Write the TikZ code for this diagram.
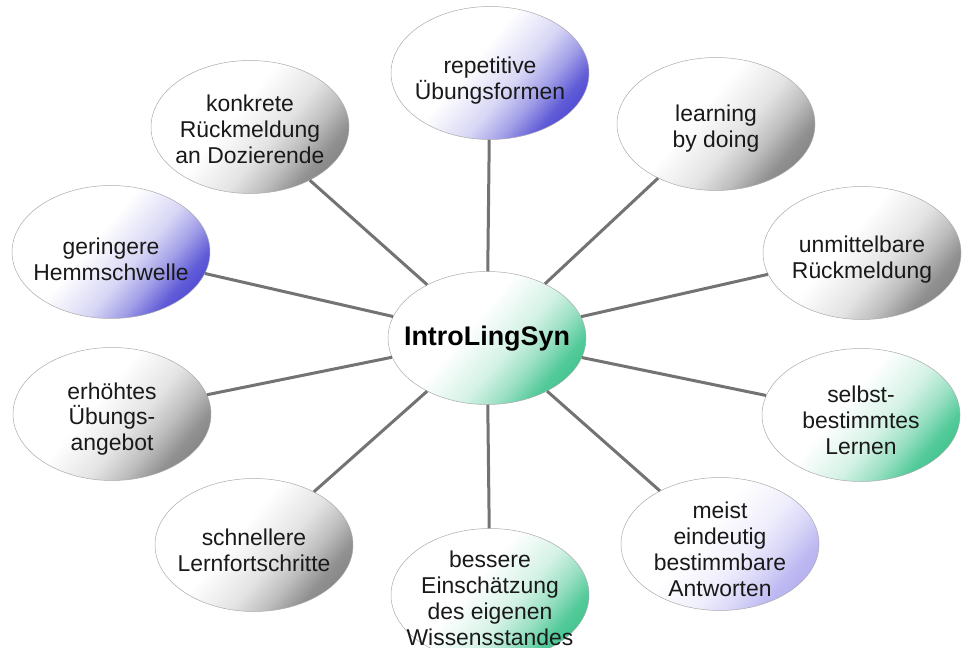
\documentclass[tikz,border=0pt]{standalone}
\usepackage{fontspec}
\setmainfont{Liberation Sans}
\usetikzlibrary{shapes.geometric}
\definecolor{cblue}{RGB}{75,70,210}
\definecolor{cgreen}{RGB}{60,195,140}
\definecolor{cgray}{RGB}{130,130,130}
\definecolor{clav}{RGB}{180,175,240}
\definecolor{conn}{RGB}{115,115,115}
\newcommand{\mkshade}[2]{\pgfdeclarehorizontalshading{#1}{100bp}{color(0bp)=(white); color(44bp)=(white); color(57bp)=(#2!22!white); color(65bp)=(#2!52!white); color(72bp)=(#2!88!white); color(78bp)=(#2); color(100bp)=(#2)}}
\mkshade{shblue}{cblue}
\mkshade{shgreen}{cgreen}
\mkshade{shgray}{cgray}
\mkshade{shlav}{clav}
\tikzset{
  bub/.style={ellipse, draw=black!33, line width=0.5bp, shading=sh#1, shading angle=-40,
    minimum width=198bp, minimum height=133bp, inner sep=0pt},
  txt/.style={align=center, font=\fontsize{23}{26}\selectfont, text=black!90, yshift=-5bp},
  link/.style={draw=conn, line width=3bp}
}
\begin{document}
\begin{tikzpicture}[x=1bp,y=-1bp]
\useasboundingbox (0,0) rectangle (966,648);
\node[bub=green, label={[align=center,font=\bfseries\fontsize{27}{31}\selectfont,yshift=-1bp]center:IntroLingSyn}] (c) at (487,338) {};
\node[bub=blue,  label={[txt,yshift=-3bp]center:repetitive\\Übungsformen}] (rep) at (490,73) {};
\node[bub=gray,  label={[txt,yshift=3bp]center:konkrete\\Rückmeldung\\an Dozierende}] (konk) at (250,127) {};
\node[bub=gray,  label={[txt]center:learning\\by doing}] (learn) at (716,124) {};
\node[bub=gray,  label={[txt,yshift=-2bp]center:unmittelbare\\Rückmeldung}] (unm) at (862,253) {};
\node[bub=green, label={[txt]center:selbst-\\bestimmtes\\Lernen}] (selb) at (861,415) {};
\node[bub=lav,   label={[txt]center:meist\\eindeutig\\bestimmbare\\Antworten}] (meist) at (720,544) {};
\node[bub=green, label={[txt,yshift=2bp]center:bessere\\Einschätzung\\des eigenen\\Wissensstandes}] (bess) at (490,595) {};
\node[bub=gray,  label={[txt]center:schnellere\\Lernfortschritte}] (schn) at (254,545) {};
\node[bub=gray,  label={[txt]center:erhöhtes\\Übungs-\\angebot}] (erh) at (112,414) {};
\node[bub=blue,  label={[txt,yshift=-2bp]center:geringere\\Hemmschwelle}] (ger) at (111,252) {};
\foreach \n in {rep,konk,learn,unm,selb,meist,bess,schn,erh,ger}
  \draw[link] (c) -- (\n);
\end{tikzpicture}
\end{document}
